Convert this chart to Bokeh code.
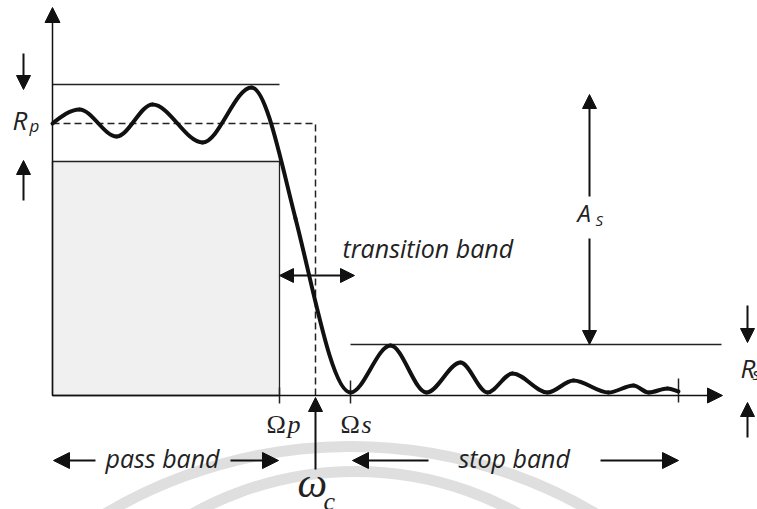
from bokeh.plotting import figure
from bokeh.models import Range1d, Arrow, NormalHead
from bokeh.core.properties import value
from bokeh.embed import file_html
from bokeh.resources import INLINE

# ---- response curve knots: frequency, gain and tangent slope at each knot ----
resp_freq = [0, 27, 64, 100, 150, 199, 243, 298, 338, 374, 408, 435, 460, 495, 521, 556, 581, 596, 615, 626]
resp_gain = [272, 286, 259, 291, 253, 308, 177, 3, 50, 3, 33, 3, 22, 3, 15, 3, 10, 3, 7, 4]
resp_slope = [0.8, 0, 0, 0, 0, 0, -3.9, 0, 0, 0, 0, 0, 0, 0, 0, 0, 0, 0, 0, -0.3]

# ---- specification levels and band edges ----
pass_edge = 227      # Omega_p
cutoff = 263         # omega_c
stop_edge = 298      # Omega_s
freq_end = 626
stop_line_end = 669
pass_hi = 311        # upper ripple bound
pass_mid = 272       # nominal level
pass_lo = 234        # lower ripple bound
stop_hi = 51         # stop band ripple bound
axis_x_end = 670
axis_y_end = 388

# frame: origin sits 52 px from the left and 114 px from the bottom
W, H = 757, 509
OX, OY = 52, 395

p = figure(width=W, height=H, x_range=Range1d(-OX, W - OX), y_range=Range1d(OY - H, OY),
           output_backend="svg", toolbar_location=None, min_border=0,
           x_axis_type=None, y_axis_type=None)
p.xgrid.visible = False
p.ygrid.visible = False
p.outline_line_color = None
p.background_fill_color = "white"
p.border_fill_color = "white"

INK = "#111111"

# faint background arcs
p.arc(x=[298, 303], y=[-532, -411], radius=[481, 335], start_angle=0.9, end_angle=2.25,
      line_color="#dfdfdf", line_width=11)

# pass band box and specification lines
p.quad(left=[0], right=[pass_edge], bottom=[0], top=[pass_lo],
       fill_color="#f0f0f0", line_color="#222222", line_width=1.3)
p.line([0, pass_edge], [pass_hi, pass_hi], line_color="#222222", line_width=1.3)
p.line([0, cutoff, cutoff], [pass_mid, pass_mid, 0], line_color="#222222",
       line_width=1.5, line_dash="7 4")
p.line([stop_edge, stop_line_end], [stop_hi, stop_hi], line_color="#222222", line_width=1.3)

# ticks on the frequency axis
p.segment(x0=[pass_edge, stop_edge, freq_end], y0=[8, 15, 17],
          x1=[pass_edge, stop_edge, freq_end], y1=[-8, -8, -7],
          line_color="#222222", line_width=1.5)

def head(size=14):
    return NormalHead(size=size, fill_color=INK, line_color=INK, line_width=1)

def arrow(x0, y0, x1, y1, width=2.0, size=14, both=False):
    p.add_layout(Arrow(end=head(size), start=head(size) if both else None,
                       x_start=x0, y_start=y0, x_end=x1, y_end=y1,
                       line_color=INK, line_width=width))

# axes
arrow(0, 0, 0, axis_y_end, width=1.5, size=15)
arrow(0, 0, axis_x_end, 0, width=1.5, size=15)

# magnitude response drawn as Hermite segments between knots
x0, y0, x1, y1, cx0, cy0, cx1, cy1 = [], [], [], [], [], [], [], []
for i in range(len(resp_freq) - 1):
    a, b = resp_freq[i], resp_freq[i + 1]
    ga, gb = resp_gain[i], resp_gain[i + 1]
    d = (b - a) / 3.0
    x0.append(a); y0.append(ga); x1.append(b); y1.append(gb)
    cx0.append(a + d); cy0.append(ga + resp_slope[i] * d)
    cx1.append(b - d); cy1.append(gb - resp_slope[i + 1] * d)
p.bezier(x0=x0, y0=y0, x1=x1, y1=y1, cx0=cx0, cy0=cy0, cx1=cx1, cy1=cy1,
         line_color=INK, line_width=4, line_cap="round")

# dimension arrows
arrow(-29, 342, -29, 306)          # Rp, from above
arrow(-29, 195, -29, 235)          # Rp, from below
arrow(537, 199, 537, 301)          # As, upper part
arrow(537, 157, 537, stop_hi)      # As, lower part
arrow(695, 90, 695, 53)            # Rs, from above
arrow(695, -42, 695, -7)           # Rs, from below
arrow(pass_edge, 120, 302, 120, both=True)   # transition band
arrow(cutoff, -74, cutoff, -2)     # omega_c marker

# band arrows below the axis
arrow(43, -65, 1, -65, size=16)
arrow(178, -65, 226, -65, size=16)
arrow(376, -65, 300, -65, size=16)
arrow(548, -65, 626, -65, size=16)

# italic sans labels
sans = dict(text_font=value("Open Sans"), text_font_style="italic",
            text_baseline="alphabetic", text_align="left", text_color="#222222")
p.text(x=[290], y=[148], text=["transition band"], text_font_size="25px", **sans)
p.text(x=[53, 406], y=[-62, -62], text=["pass band", "stop band"], text_font_size="25px", **sans)
p.text(x=[-40, 688], y=[276, 28], text=["R", "R"], text_font_size="26px", **sans)
p.text(x=[-23], y=[270], text=["p"], text_font_size="17px", **sans)
p.text(x=[700], y=[22], text=["s"], text_font_size="17px", **sans)
p.text(x=[525], y=[183], text=["A"], text_font_size="24px", **sans)
p.text(x=[543], y=[176], text=["S"], text_font_size="15px", **sans)

# serif frequency labels
serif = dict(text_font=value("Liberation Serif"), text_baseline="alphabetic",
             text_align="left", text_color="#222222")
p.text(x=[214, 288], y=[-29, -29], text=["\u03a9", "\u03a9"], text_font_size="26px", **serif)
p.text(x=[235], y=[-29], text=["p"], text_font_size="26px", text_font_style="italic", **serif)
p.text(x=[309], y=[-29], text=["s"], text_font_size="26px", text_font_style="italic", **serif)
p.text(x=[245], y=[-87], text=["\u03c9"], text_font_size="42px", text_font_style="italic", **serif)
p.text(x=[271], y=[-106], text=["c"], text_font_size="26px", text_font_style="italic", **serif)

open("out.html", "w").write(file_html(p, INLINE))
